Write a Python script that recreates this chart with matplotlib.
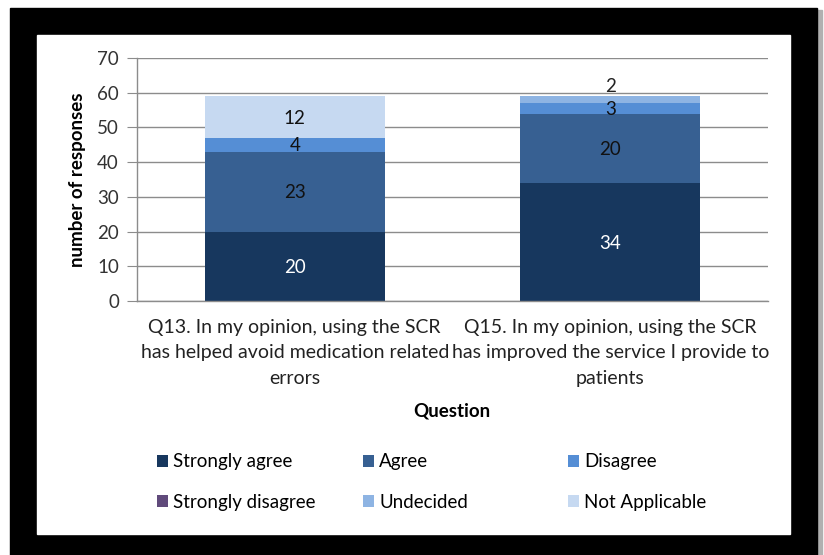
import numpy as np
import matplotlib
matplotlib.use('Agg')
import matplotlib.pyplot as plt
from matplotlib.patches import Rectangle

# Survey responses per question
questions = ['Q13. In my opinion, using the SCR\nhas helped avoid medication related\nerrors',
             'Q15. In my opinion, using the SCR\nhas improved the service I provide to\npatients']
categories = ['Strongly agree', 'Agree', 'Disagree',
              'Strongly disagree', 'Undecided', 'Not Applicable']
strongly_agree = [20, 34]
agree = [23, 20]
disagree = [4, 3]
strongly_disagree = [0, 0]
undecided = [0, 2]
not_applicable = [12, 0]

colors = ['#17375E', '#376092', '#558ED5', '#604A7B', '#8EB4E3', '#C6D9F1']
label_colors = ['white', '#111111', '#111111', '#111111', '#111111', '#111111']


def main():
    plt.rcParams['font.family'] = ['Lato', 'DejaVu Sans']
    W, H = 824, 555
    fs = 13.5
    fig = plt.figure(figsize=(W / 100, H / 100), dpi=100)

    # black frame with white chart area inside
    fig.patches.append(Rectangle((817 / W, 0), 5 / W, (H - 10) / H,
                                 transform=fig.transFigure, color='#b0b0b0', zorder=-10))
    fig.patches.append(Rectangle((10 / W, 0), 807 / W, (H - 8) / H,
                                 transform=fig.transFigure, color='black', zorder=-9))
    fig.patches.append(Rectangle((37 / W, 21 / H), 753 / W, 499 / H,
                                 transform=fig.transFigure, color='white', zorder=-8))

    ax = fig.add_axes([137 / W, (H - 301) / H, 631 / W, 243 / H])
    ax.set_facecolor('none')

    series = [strongly_agree, agree, disagree, strongly_disagree, undecided, not_applicable]
    x = np.arange(len(questions))
    bottom = np.zeros(len(questions))
    handles = []
    for name, vals, col, tcol in zip(categories, series, colors, label_colors):
        vals = np.array(vals, dtype=float)
        bars = ax.bar(x, vals, 0.57, bottom=bottom, color=col, label=name, zorder=2)
        handles.append(bars)
        for i, v in enumerate(vals):
            if v <= 0:
                continue
            if v < 3:
                # small segment: label sits above the stack
                ax.text(x[i], bottom[i] + v + 2.8, f'{int(v)}', ha='center', va='center',
                        fontsize=fs, color='#222222', zorder=3)
            else:
                ax.text(x[i], bottom[i] + v / 2 - 0.3, f'{int(v)}', ha='center', va='center',
                        fontsize=fs, color=tcol, zorder=3)
        bottom += vals

    ax.set_xlim(-0.5, 1.5)
    ax.set_ylim(0, 70)
    ax.set_yticks(range(0, 71, 10))
    ax.yaxis.grid(True, color='#8c8c8c', linewidth=1)
    ax.set_axisbelow(True)
    for s in ['top', 'right']:
        ax.spines[s].set_visible(False)
    for s in ['left', 'bottom']:
        ax.spines[s].set_color('#8c8c8c')
        ax.spines[s].set_linewidth(1)
    ax.tick_params(axis='y', length=7, color='#8c8c8c', labelsize=fs,
                   labelcolor='#333333', pad=6)
    ax.tick_params(axis='x', length=0, labelsize=14, labelcolor='#222222', pad=13)
    ax.set_xticks(x)
    ax.set_xticklabels(questions, linespacing=1.6)

    ax.set_ylabel('number of responses', fontsize=fs, fontweight='bold', labelpad=8)
    fig.text(452 / W, 1 - 411 / H, 'Question', ha='center', va='center',
             fontsize=fs, fontweight='bold')

    # legend: one column per group so the columns are evenly spaced
    col_x = [149, 355, 560]
    for j in range(3):
        fig.legend([handles[j], handles[j + 3]], [categories[j], categories[j + 3]],
                   loc='upper left', bbox_to_anchor=(col_x[j] / W, 1 - 446 / H),
                   frameon=False, fontsize=fs, handlelength=0.6, handleheight=0.6,
                   handletextpad=0.3, labelspacing=1.25, borderaxespad=0)

    fig.savefig('out.png', dpi=100)


if __name__ == "__main__":
    main()
